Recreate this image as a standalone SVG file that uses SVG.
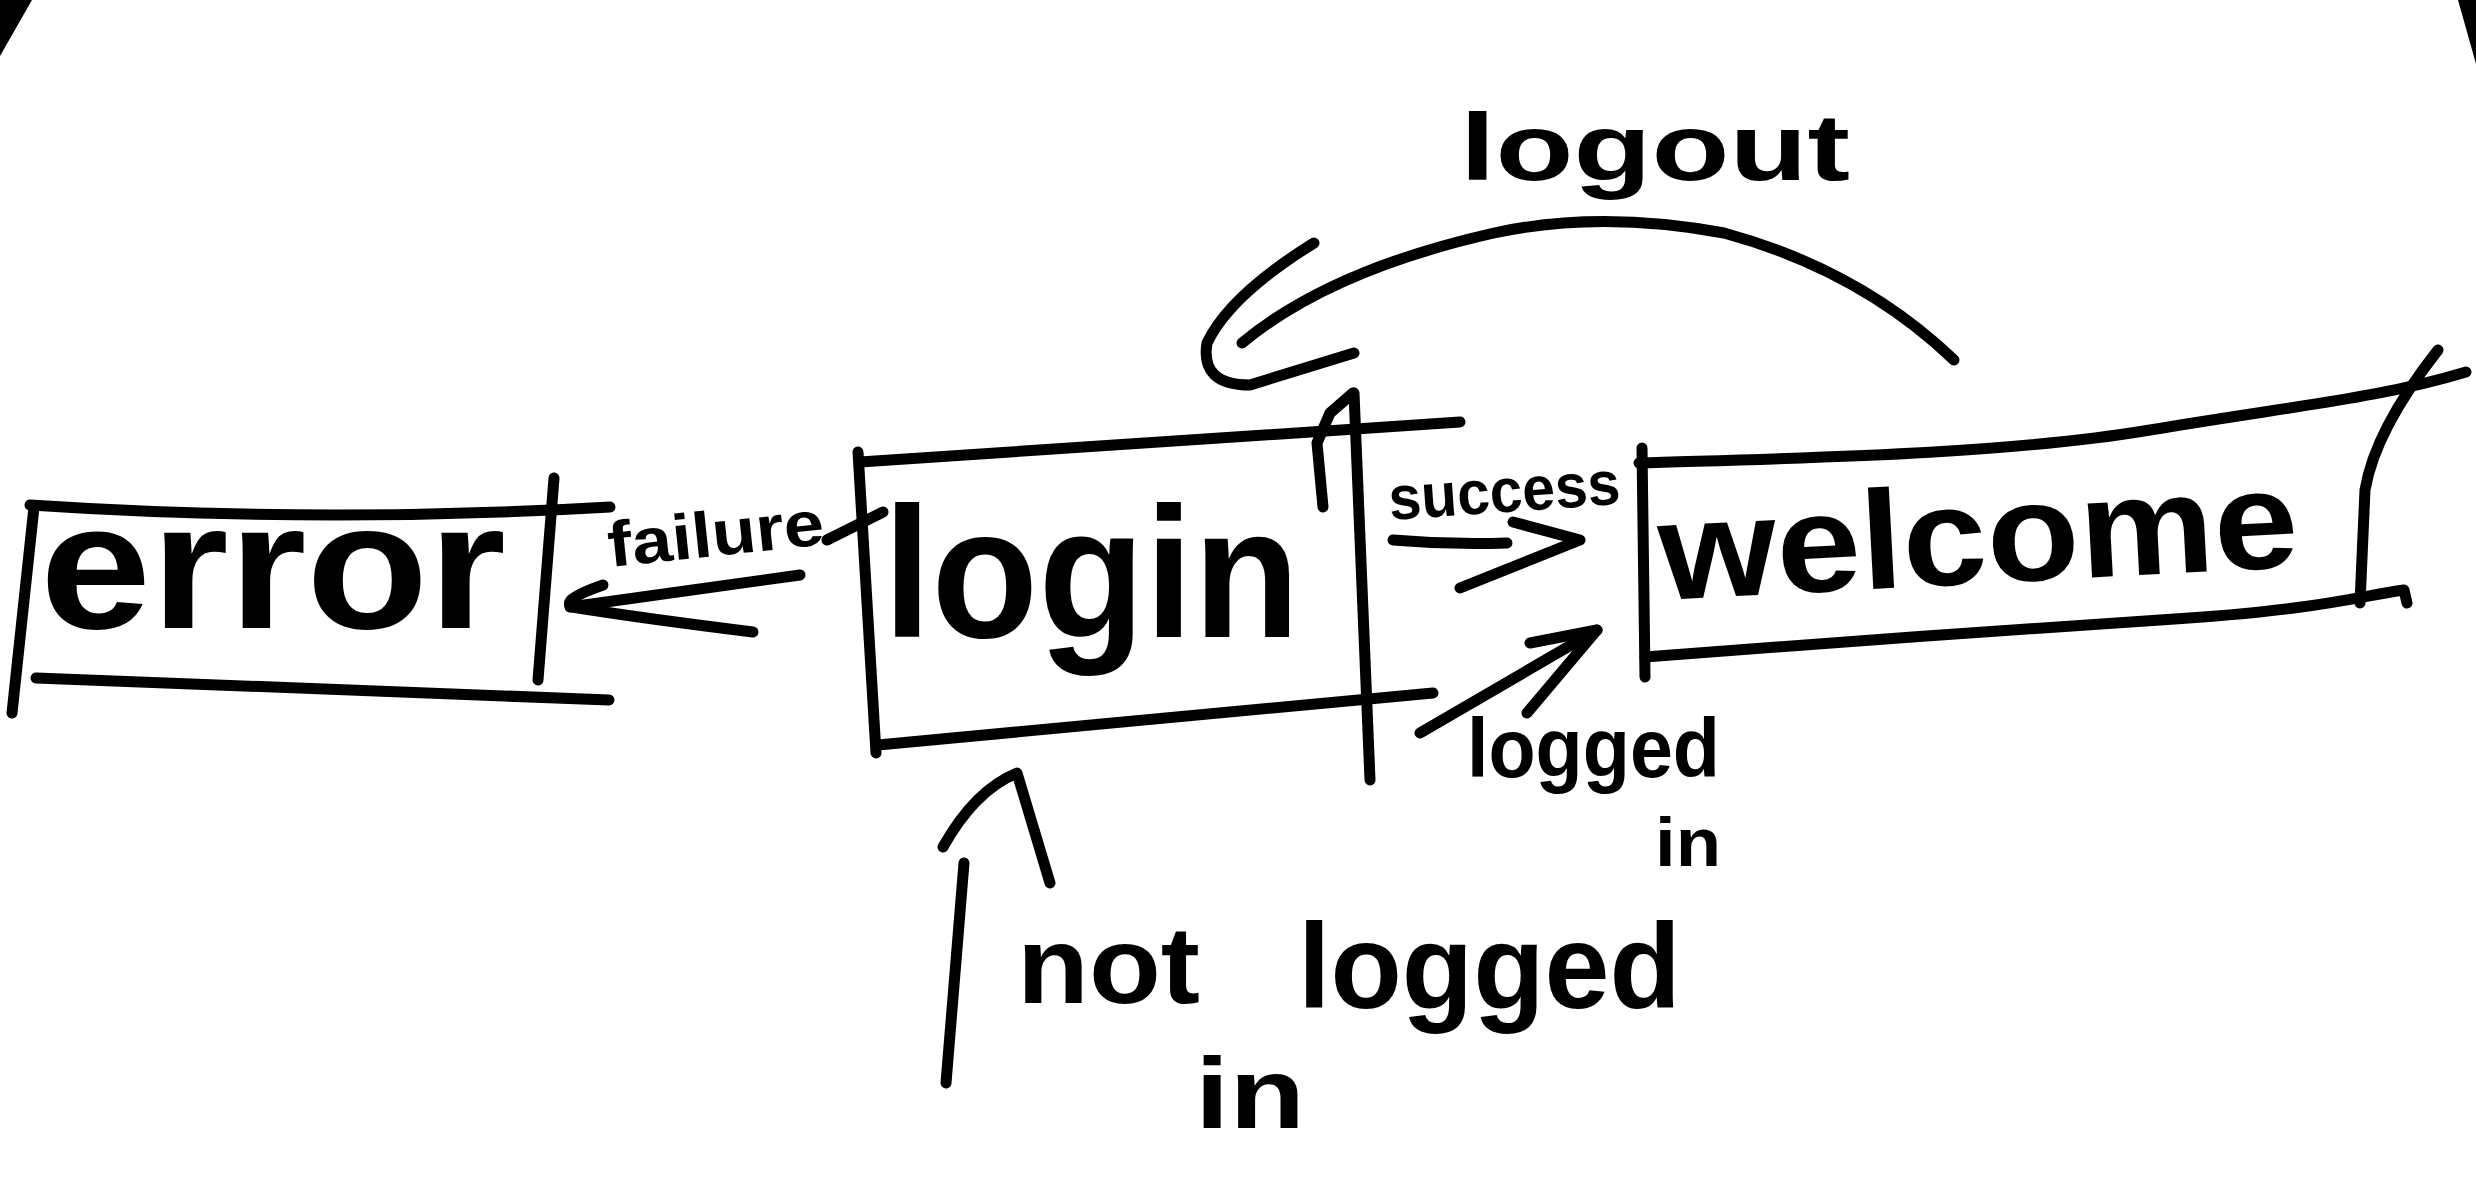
<svg xmlns="http://www.w3.org/2000/svg" width="2476" height="1204" viewBox="0 0 2476 1204">
<style>
.s{fill:none;stroke:#000;stroke-width:11;stroke-linecap:round;stroke-linejoin:round}
.t{font-family:"Liberation Sans",Arial,sans-serif;font-weight:bold;fill:#000}
</style>
<rect width="2476" height="1204" fill="#fff"/>
<polygon points="0,0 32,0 0,56" fill="#000"/>
<polygon points="2458,0 2476,0 2476,64" fill="#000"/>
<g id="error">
<path class="s" d="M30 505 Q320 524 610 507"/>
<path class="s" d="M34 507 L12 713"/>
<path class="s" d="M36 678 L609 700"/>
<path class="s" d="M554 478 L538 680"/>
<text class="t" x="40" y="628" font-size="180" textLength="466" lengthAdjust="spacingAndGlyphs">error</text>
</g>
<g id="login">
<path class="s" d="M858 452 L876 753"/>
<path class="s" d="M860 462 L1460 422"/>
<path class="s" d="M878 745 L1433 693"/>
<path class="s" d="M1354 393 L1370 780"/>
<path class="s" d="M1323 507 L1317 443 L1330 413 L1353 393"/>
<text class="t" x="883" y="637" font-size="185" textLength="417" lengthAdjust="spacingAndGlyphs">login</text>
</g>
<g id="welcome">
<path class="s" d="M1642 448 L1645 677"/>
<path class="s" d="M1639 463 C1800 458 2000 455 2150 430 S2380 398 2466 372"/>
<path class="s" d="M1645 657 C1800 645 2000 630 2160 620 S2354 597 2404 590 L2407 603"/>
<path class="s" d="M2360 603 L2365 490 Q2375 430 2438 350"/>
<text class="t" x="1661" y="600" font-size="140" textLength="640" lengthAdjust="spacingAndGlyphs" transform="rotate(-3 1661 600)">welcome</text>
</g>
<g id="connectors">
<g id="edge-failure">
<path class="s" d="M800 575 L570 607"/>
<path class="s" d="M603 585 Q560 600 572 607 Q640 618 753 632"/>
<path class="s" d="M827 540 L883 512"/>
<text class="t" x="610" y="567" font-size="64" textLength="217" lengthAdjust="spacingAndGlyphs" transform="rotate(-6 610 567)">failure</text>
</g>
<g id="edge-success">
<path class="s" d="M1393 540 Q1450 545 1507 543"/>
<path class="s" d="M1513 522 L1580 540 L1460 588"/>
<text class="t" x="1390" y="520" font-size="62" textLength="232" lengthAdjust="spacingAndGlyphs" transform="rotate(-4 1390 520)">success</text>
</g>
<g id="edge-logged-in">
<path class="s" d="M1420 733 L1597 630"/>
<path class="s" d="M1530 643 L1597 630 L1527 713"/>
<text class="t" x="1467" y="777" font-size="84" textLength="253" lengthAdjust="spacingAndGlyphs">logged</text>
<text class="t" x="1655" y="866" font-size="68" textLength="66" lengthAdjust="spacingAndGlyphs">in</text>
</g>
<g id="edge-not-logged-in">
<path class="s" d="M964 863 L946 1083"/>
<path class="s" d="M943 847 Q975 790 1017 773 L1050 883"/>
<text class="t" x="1017" y="1003" font-size="110" textLength="183" lengthAdjust="spacingAndGlyphs">not</text>
<text class="t" x="1298" y="1008" font-size="120" textLength="383" lengthAdjust="spacingAndGlyphs">logged</text>
<text class="t" x="1195" y="1128" font-size="100" textLength="110" lengthAdjust="spacingAndGlyphs">in</text>
</g>
<g id="edge-logout">
<path class="s" d="M1954 360 Q1860 270 1724 233 Q1600 210 1494 233 Q1330 270 1242 343"/>
<path class="s" d="M1314 243 Q1230 295 1207 343 Q1200 385 1250 385 L1354 353"/>
<text class="t" x="1460" y="180" font-size="95" textLength="390" lengthAdjust="spacingAndGlyphs">logout</text>
</g>
</g>
</svg>
